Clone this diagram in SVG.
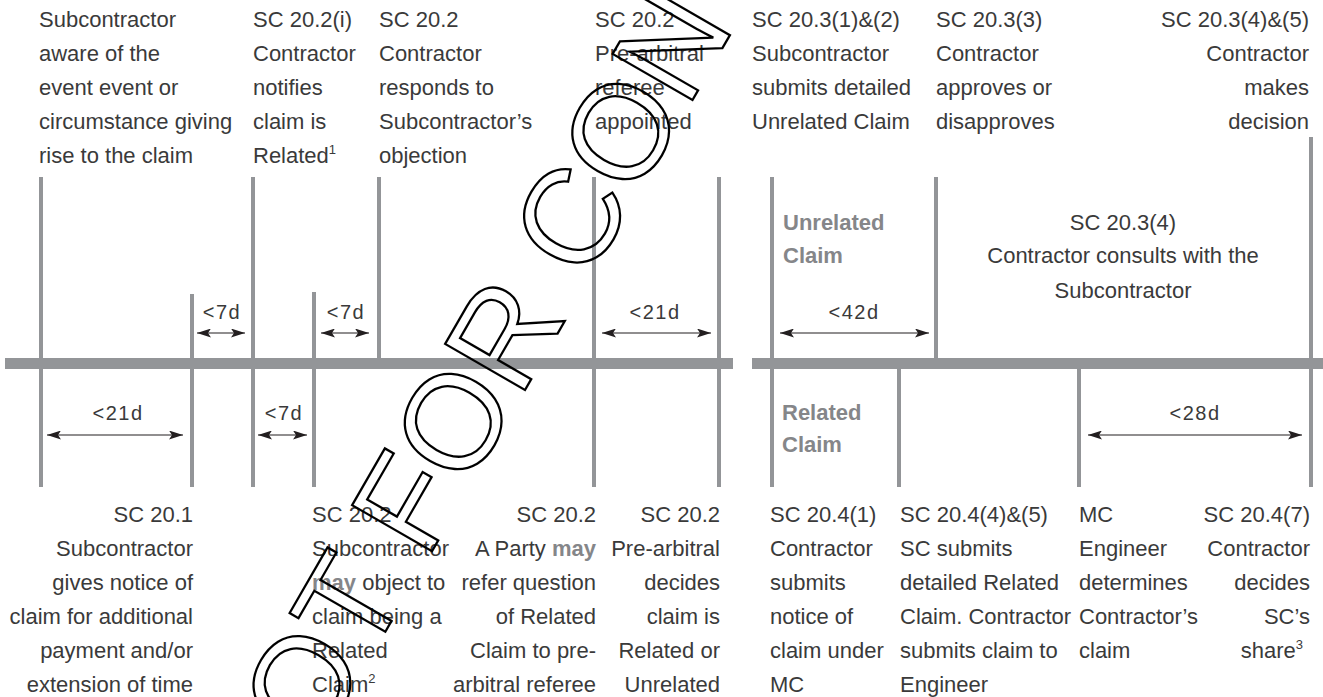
<svg xmlns="http://www.w3.org/2000/svg" width="1323" height="697" viewBox="0 0 1323 697">
<defs>
<style>
.t{font-family:"Liberation Sans",Arial,sans-serif;font-size:22px;fill:#3a3a3a}
.r{text-anchor:end}
.m{text-anchor:middle}
.b{font-weight:bold;fill:#858689}
.v{stroke:#939598;stroke-width:4;fill:none}
.bar{fill:#939598}
.d{stroke:#231f20;stroke-width:1.2;fill:none;marker-start:url(#ah);marker-end:url(#ah)}
.dl{font-family:"Liberation Sans",Arial,sans-serif;font-size:20px;fill:#3a3a3a;text-anchor:middle;letter-spacing:1.5px}
.sup{font-size:13px}
.wm{font-family:"Liberation Sans",Arial,sans-serif;font-size:134px;fill:none;stroke:#000;stroke-width:2.3}
</style>
<marker id="ah" viewBox="0 0 14 9" markerWidth="14" markerHeight="9" refX="14" refY="4.5" orient="auto-start-reverse" markerUnits="userSpaceOnUse"><path d="M0,0 L14,4.5 L0,9 L3,4.5 Z" fill="#231f20"/></marker>
</defs>
<rect width="1323" height="697" fill="#fff"/>

<g id="timeline">
<rect class="bar" x="5" y="358" width="728" height="11"/>
<rect class="bar" x="752" y="358" width="571" height="11"/>
</g>

<g id="ev-aware">
<line class="v" x1="41" y1="177" x2="41" y2="487"/>
<text class="t"><tspan x="39" y="27">Subcontractor</tspan><tspan x="39" dy="34">aware of the</tspan><tspan x="39" dy="34">event event or</tspan><tspan x="39" dy="34">circumstance giving</tspan><tspan x="39" dy="34">rise to the claim</tspan></text>
</g>

<g id="ev-sc201">
<line class="v" x1="192" y1="294" x2="192" y2="487"/>
<text class="t r"><tspan x="193" y="522">SC 20.1</tspan><tspan x="193" dy="34">Subcontractor</tspan><tspan x="193" dy="34">gives notice of</tspan><tspan x="193" dy="34">claim for additional</tspan><tspan x="193" dy="34">payment and/or</tspan><tspan x="193" dy="34">extension of time</tspan></text>
</g>

<g id="ev-sc202i">
<line class="v" x1="253" y1="177" x2="253" y2="487"/>
<text class="t"><tspan x="253" y="27">SC 20.2(i)</tspan><tspan x="253" dy="34">Contractor</tspan><tspan x="253" dy="34">notifies</tspan><tspan x="253" dy="34">claim is</tspan><tspan x="253" dy="34">Related</tspan><tspan class="sup" dy="-9">1</tspan></text>
</g>

<g id="ev-sc202-object">
<line class="v" x1="314" y1="292" x2="314" y2="487"/>
<text class="t"><tspan x="312" y="522">SC 20.2</tspan><tspan x="312" dy="34">Subcontractor</tspan><tspan x="312" dy="34"><tspan class="b">may</tspan> object to</tspan><tspan x="312" dy="34">claim being a</tspan><tspan x="312" dy="34">Related</tspan><tspan x="312" dy="34">Claim</tspan><tspan class="sup" dy="-9">2</tspan></text>
</g>

<g id="ev-sc202-respond">
<line class="v" x1="379" y1="177" x2="379" y2="358"/>
<text class="t"><tspan x="379" y="27">SC 20.2</tspan><tspan x="379" dy="34">Contractor</tspan><tspan x="379" dy="34">responds to</tspan><tspan x="379" dy="34">Subcontractor’s</tspan><tspan x="379" dy="34">objection</tspan></text>
</g>

<g id="ev-sc202-referee">
<line class="v" x1="594" y1="177" x2="594" y2="487"/>
<text class="t"><tspan x="595" y="27">SC 20.2</tspan><tspan x="595" dy="34">Pre-arbitral</tspan><tspan x="595" dy="34">referee</tspan><tspan x="595" dy="34">appointed</tspan></text>
<text class="t r"><tspan x="596" y="522">SC 20.2</tspan><tspan x="596" dy="34">A Party <tspan class="b">may</tspan></tspan><tspan x="596" dy="34">refer question</tspan><tspan x="596" dy="34">of Related</tspan><tspan x="596" dy="34">Claim to pre-</tspan><tspan x="596" dy="34">arbitral referee</tspan></text>
</g>

<g id="ev-sc202-decides">
<line class="v" x1="719" y1="177" x2="719" y2="487"/>
<text class="t r"><tspan x="720" y="522">SC 20.2</tspan><tspan x="720" dy="34">Pre-arbitral</tspan><tspan x="720" dy="34">decides</tspan><tspan x="720" dy="34">claim is</tspan><tspan x="720" dy="34">Related or</tspan><tspan x="720" dy="34">Unrelated</tspan></text>
</g>

<g id="ev-sc203-12">
<line class="v" x1="772" y1="177" x2="772" y2="487"/>
<text class="t"><tspan x="752" y="27">SC 20.3(1)&amp;(2)</tspan><tspan x="752" dy="34">Subcontractor</tspan><tspan x="752" dy="34">submits detailed</tspan><tspan x="752" dy="34">Unrelated Claim</tspan></text>
<text class="t b" font-size="21"><tspan x="783" y="230">Unrelated</tspan><tspan x="783" dy="33">Claim</tspan></text>
<text class="t b" font-size="21"><tspan x="782" y="420">Related</tspan><tspan x="782" dy="32">Claim</tspan></text>
<text class="t"><tspan x="770" y="522">SC 20.4(1)</tspan><tspan x="770" dy="34">Contractor</tspan><tspan x="770" dy="34">submits</tspan><tspan x="770" dy="34">notice of</tspan><tspan x="770" dy="34">claim under</tspan><tspan x="770" dy="34">MC</tspan></text>
</g>

<g id="ev-sc204-45">
<line class="v" x1="899" y1="369" x2="899" y2="487"/>
<text class="t"><tspan x="900" y="522">SC 20.4(4)&amp;(5)</tspan><tspan x="900" dy="34">SC submits</tspan><tspan x="900" dy="34">detailed Related</tspan><tspan x="900" dy="34">Claim. Contractor</tspan><tspan x="900" dy="34">submits claim to</tspan><tspan x="900" dy="34">Engineer</tspan></text>
</g>

<g id="ev-sc203-3">
<line class="v" x1="936" y1="177" x2="936" y2="358"/>
<text class="t"><tspan x="936" y="27">SC 20.3(3)</tspan><tspan x="936" dy="34">Contractor</tspan><tspan x="936" dy="34">approves or</tspan><tspan x="936" dy="34">disapproves</tspan></text>
<text class="t m"><tspan x="1123" y="230">SC 20.3(4)</tspan><tspan x="1123" dy="33">Contractor consults with the</tspan><tspan x="1123" dy="35">Subcontractor</tspan></text>
</g>

<g id="ev-mc-engineer">
<line class="v" x1="1079" y1="369" x2="1079" y2="487"/>
<text class="t"><tspan x="1079" y="522">MC</tspan><tspan x="1079" dy="34">Engineer</tspan><tspan x="1079" dy="34">determines</tspan><tspan x="1079" dy="34">Contractor’s</tspan><tspan x="1079" dy="34">claim</tspan></text>
</g>

<g id="ev-decision">
<line class="v" x1="1311" y1="137" x2="1311" y2="487"/>
<text class="t r"><tspan x="1309" y="27">SC 20.3(4)&amp;(5)</tspan><tspan x="1309" dy="34">Contractor</tspan><tspan x="1309" dy="34">makes</tspan><tspan x="1309" dy="34">decision</tspan></text>
<text class="t r"><tspan x="1310" y="522">SC 20.4(7)</tspan><tspan x="1310" dy="34">Contractor</tspan><tspan x="1310" dy="34">decides</tspan><tspan x="1310" dy="34">SC’s</tspan><tspan x="1303" dy="34">share</tspan><tspan class="sup" dy="-9">3</tspan></text>
</g>

<g id="connectors">
<line class="d" x1="197" y1="333" x2="245" y2="333"/>
<text class="dl" x="222" y="319">&lt;7d</text>
<line class="d" x1="321" y1="333" x2="369" y2="333"/>
<text class="dl" x="346" y="319">&lt;7d</text>
<line class="d" x1="602" y1="333" x2="711" y2="333"/>
<text class="dl" x="655" y="319">&lt;21d</text>
<line class="d" x1="780" y1="333" x2="929" y2="333"/>
<text class="dl" x="854" y="319">&lt;42d</text>
<line class="d" x1="47" y1="435" x2="183" y2="435"/>
<text class="dl" x="118" y="420">&lt;21d</text>
<line class="d" x1="258" y1="435" x2="307" y2="435"/>
<text class="dl" x="284" y="420">&lt;7d</text>
<line class="d" x1="1088" y1="435" x2="1302" y2="435"/>
<text class="dl" x="1195" y="420">&lt;28d</text>
</g>

<g id="watermark">
<text class="wm" transform="translate(316,752) rotate(-60)">OT FOR CON</text>
</g>
</svg>
